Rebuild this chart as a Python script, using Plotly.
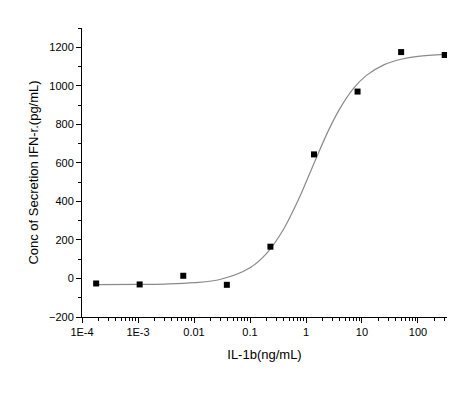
import plotly.graph_objects as go

# Measured points
conc = [0.000179, 0.00107, 0.00643, 0.0386, 0.2315, 1.389, 8.33, 50, 300]
secretion = [-26, -31, 14, -33, 165, 644, 970, 1175, 1160]

# Fitted curve
curve_x = [0.000179, 0.001, 0.003, 0.01, 0.03, 0.1, 0.2, 0.4, 0.7, 1, 1.5,
           2.5, 4, 7, 12, 25, 50, 100, 300]
curve_y = [-32, -31, -29, -22, -4, 56, 132, 257, 397, 499, 620,
           766, 880, 985, 1054, 1110, 1138, 1153, 1163]

x_tickvals = [1e-4, 1e-3, 1e-2, 1e-1, 1, 10, 100]
x_ticktext = ["1E-4", "1E-3", "0.01", "0.1", "1", "10", "100"]
y_tickvals = [-200, 0, 200, 400, 600, 800, 1000, 1200]

fig = go.Figure()
fig.add_trace(go.Scatter(x=curve_x, y=curve_y, mode="lines",
                         line=dict(color="#8a8a8a", width=1.2, shape="spline"),
                         hoverinfo="skip", showlegend=False))
fig.add_trace(go.Scatter(x=conc, y=secretion, mode="markers",
                         marker=dict(symbol="square", size=6, color="black"),
                         showlegend=False))

axis_font = dict(family="Liberation Sans, Arial, sans-serif", size=11, color="black")
fig.update_layout(
    width=474, height=393,
    margin=dict(l=74, r=35, t=20, b=84),
    paper_bgcolor="white", plot_bgcolor="white",
    font=dict(family="Liberation Sans, Arial, sans-serif", color="black"),
    xaxis=dict(
        type="log", range=[-4, 2.518],
        tickvals=x_tickvals, ticktext=x_ticktext,
        ticks="outside", ticklen=5, tickwidth=1, tickcolor="black",
        showline=True, linecolor="black", linewidth=1,
        showgrid=False, zeroline=False, tickfont=axis_font,
        minor=dict(ticks="outside", ticklen=3, tickcolor="black", dtick="D1", showgrid=False),
        title=dict(text="IL-1b(ng/mL)", font=dict(size=13), standoff=12),
    ),
    yaxis=dict(
        range=[-200, 1300],
        tickvals=y_tickvals,
        ticks="outside", ticklen=5, tickwidth=1, tickcolor="black",
        showline=True, linecolor="black", linewidth=1,
        showgrid=False, zeroline=False, tickfont=axis_font,
        minor=dict(ticks="outside", ticklen=3, tickcolor="black", dtick=100, showgrid=False),
        title=dict(text="Conc of Secretion IFN-r.(pg/mL)", font=dict(size=13), standoff=7),
    ),
)

fig.write_html("out.html")
